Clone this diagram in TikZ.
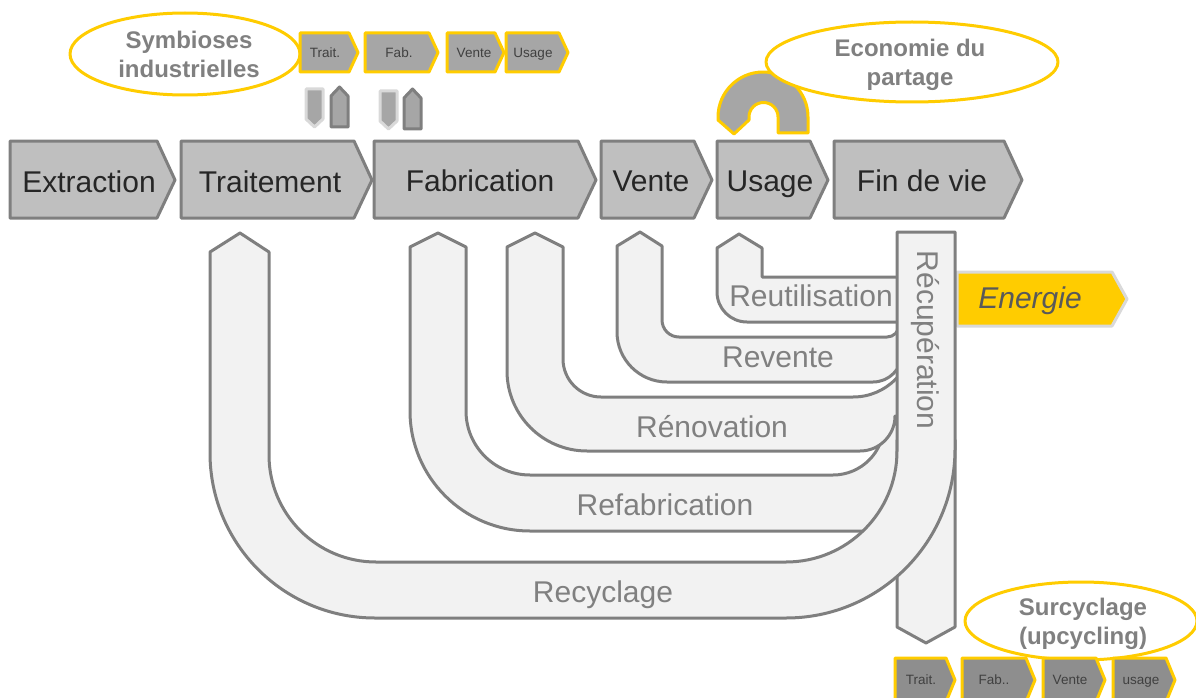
\documentclass[tikz,border=0pt]{standalone}
\usepackage{fontspec}
\setmainfont{Liberation Sans}
\usepackage{xcolor}
\usetikzlibrary{calc}

\definecolor{linegray}{HTML}{7F7F7F}
\definecolor{boxfill}{HTML}{BFBFBF}
\definecolor{bandfill}{HTML}{F2F2F2}
\definecolor{smallfill}{HTML}{A6A6A6}
\definecolor{smalldark}{HTML}{8E8E8E}
\definecolor{pale}{HTML}{D9D9D9}
\definecolor{gold}{HTML}{FFCC00}
\definecolor{txtdark}{HTML}{262626}
\definecolor{txtmid}{HTML}{404040}
\definecolor{txtgray}{HTML}{808080}
\definecolor{txtenergy}{HTML}{595959}

\begin{document}
\begin{tikzpicture}[x=1pt,y=-1pt,line join=round,
	mainbox/.style={fill=boxfill,draw=linegray,line width=3pt},
	maintext/.style={text=txtdark,font=\fontsize{30}{36}\selectfont,inner sep=0pt,anchor=base},
	smallbox/.style={fill=smallfill,draw=gold,line width=3pt},
	smallboxdark/.style={fill=smalldark,draw=gold,line width=3pt},
	smalltext/.style={text=txtmid,font=\fontsize{13.5}{16}\selectfont,inner sep=0pt,anchor=base},
	bubble/.style={fill=white,draw=gold,line width=3pt},
	bubbletext/.style={text=txtgray,font=\bfseries\fontsize{24}{29}\selectfont,align=center,inner sep=0pt},
	band/.style={fill=bandfill,draw=linegray,line width=3pt},
	bandtext/.style={text=txtgray,font=\fontsize{30}{36}\selectfont,inner sep=0pt,anchor=base},
	arrowlight/.style={fill=smallfill,draw=pale,line width=3pt},
	arrowdark/.style={fill=smallfill,draw=linegray,line width=3pt},
	energiebox/.style={fill=gold,draw=pale,line width=3pt}]
	\useasboundingbox (0,0) rectangle (1196,698);

	% symbioses industrielles
	\draw[bubble] (185,54) ellipse [x radius=115, y radius=41];
	\node[bubbletext] (symbioses) at (189,54) {Symbioses\\industrielles};
	\draw[smallbox] (300,33) -- (349,33) -- (358,52.5) -- (349,72) -- (300,72) -- cycle;
	\draw[smallbox] (365,33) -- (429,33) -- (438,52.5) -- (429,72) -- (365,72) -- cycle;
	\draw[smallbox] (447,33) -- (495,33) -- (504,52.5) -- (495,72) -- (447,72) -- cycle;
	\draw[smallbox] (506,33) -- (559,33) -- (568,52.5) -- (559,72) -- (506,72) -- cycle;
	\node[smalltext] (sTrait) at (325,57.5) {Trait.};
	\node[smalltext] (sFab) at (399,57.5) {Fab.};
	\node[smalltext] (sVente) at (474,57.5) {Vente};
	\node[smalltext] (sUsage) at (533,57.5) {Usage};

	% small in/out arrows
	\draw[arrowlight] (306,89) -- (323,89) -- (323,119) -- (314.5,127) -- (306,119) -- cycle;
	\draw[arrowdark] (331,127) -- (331,96) -- (339.5,87) -- (348,96) -- (348,127) -- cycle;
	\draw[arrowlight] (380,91) -- (397,91) -- (397,121) -- (388.5,129) -- (380,121) -- cycle;
	\draw[arrowdark] (404,129) -- (404,98) -- (412.5,89) -- (421,98) -- (421,129) -- cycle;

	% economie du partage
	\draw[smallbox] (808,133) -- (808,117) arc[start angle=0, end angle=-180, radius=45]
		-- (718,120) -- (734,134) -- (749,120) -- (749,117)
		arc[start angle=180, end angle=360, radius=14.5] -- (778,133) -- cycle;
	\draw[bubble] (912,62) ellipse [x radius=146, y radius=40];
	\node[bubbletext] (economie) at (910,65) {Economie du\\partage};

	% main chain
	\draw[mainbox] (10,141) -- (157,141) -- (175,180) -- (157,218) -- (10,218) -- cycle;
	\draw[mainbox] (181,141) -- (354,141) -- (372,180) -- (354,218) -- (181,218) -- cycle;
	\draw[mainbox] (374,141) -- (578,141) -- (596,180) -- (578,218) -- (374,218) -- cycle;
	\draw[mainbox] (601,141) -- (694,141) -- (712,180) -- (694,218) -- (601,218) -- cycle;
	\draw[mainbox] (717,141) -- (810,141) -- (828,180) -- (810,218) -- (717,218) -- cycle;
	\draw[mainbox] (834,141) -- (1004,141) -- (1022,180) -- (1004,218) -- (834,218) -- cycle;
	\node[maintext] (extraction) at (89,192) {Extraction};
	\node[maintext] (traitement) at (270,192) {Traitement};
	\node[maintext] (fabrication) at (480,191) {Fabrication};
	\node[maintext] (vente) at (651,191) {Vente};
	\node[maintext] (usage) at (770,191) {Usage};
	\node[maintext] (findevie) at (922,191) {Fin de vie};

	% loops back into the chain
	\begin{scope}
		\clip (0,0) rectangle (897,698);
		\draw[band] (438,233) -- (466,247) -- (466,411) arc[start angle=180, end angle=90, radius=64]
			-- (833,475) arc[start angle=90, end angle=0, radius=51] -- (990,424) -- (990,531)
			-- (530,531) arc[start angle=90, end angle=180, radius=120] -- (410,247) -- cycle;
		\draw[band] (535,233) -- (563,247) -- (563,359) arc[start angle=180, end angle=90, radius=38]
			-- (853,397) arc[start angle=90, end angle=0, radius=60] -- (990,337) -- (990,416)
			-- (895,416) arc[start angle=0, end angle=90, radius=35]
			-- (587,451) arc[start angle=90, end angle=180, radius=80] -- (507,247) -- cycle;
		\draw[band] (640,232) -- (662,246) -- (662,320) arc[start angle=180, end angle=90, radius=17]
			-- (887,337) arc[start angle=90, end angle=0, radius=12] -- (990,325) -- (990,353)
			-- (902,353) arc[start angle=0, end angle=90, radius=29]
			-- (667,382) arc[start angle=90, end angle=180, radius=50] -- (617,246) -- cycle;
		\draw[band] (739,234) -- (762,248) -- (762,277) -- (990,277) -- (990,322)
			-- (747,322) arc[start angle=90, end angle=180, radius=30] -- (717,248) -- cycle;
	\end{scope}

	% energie
	\draw[energiebox] (957,272) -- (1112,272) -- (1127,299) -- (1112,326) -- (957,326) -- cycle;
	\node[bandtext,text=txtenergy,font=\itshape\fontsize{30}{36}\selectfont] (energie) at (1030,308) {Energie};

	% recuperation and recyclage
	\draw[band] (897,440) -- (955,440) -- (955,627) -- (926,643) -- (897,627) -- cycle;
	\draw[band] (240,233) -- (269,252) -- (269,455) arc[start angle=180, end angle=90, radius=107]
		-- (786,562) arc[start angle=90, end angle=0, radius=111] -- (897,232) -- (955,232)
		-- (955,449) arc[start angle=0, end angle=90, radius=169]
		-- (375,618) arc[start angle=90, end angle=180, radius=165] -- (210,252) -- cycle;

	\node[bandtext,rotate=-90,anchor=center] (recuperation) at (925,340) {Récupération};
	\node[bandtext] (reutilisation) at (811,306) {Reutilisation};
	\node[bandtext] (revente) at (778,367) {Revente};
	\node[bandtext] (renovation) at (712,437) {Rénovation};
	\node[bandtext] (refabrication) at (665,515) {Refabrication};
	\node[bandtext] (recyclage) at (603,602) {Recyclage};

	% surcyclage
	\draw[bubble] (1081,621) ellipse [x radius=116, y radius=39];
	\node[bubbletext] (surcyclage) at (1083,623.5) {Surcyclage\\(upcycling)};
	\draw[smallboxdark] (895,658) -- (946,658) -- (955,680) -- (946,702) -- (895,702) -- cycle;
	\draw[smallboxdark] (962,658) -- (1026,658) -- (1035,680) -- (1026,702) -- (962,702) -- cycle;
	\draw[smallboxdark] (1043,658) -- (1096,658) -- (1105,680) -- (1096,702) -- (1043,702) -- cycle;
	\draw[smallboxdark] (1113,658) -- (1166,658) -- (1175,680) -- (1166,702) -- (1113,702) -- cycle;
	\node[smalltext] (uTrait) at (921,684) {Trait.};
	\node[smalltext] (uFab) at (994,684) {Fab..};
	\node[smalltext] (uVente) at (1070,684) {Vente};
	\node[smalltext] (uUsage) at (1141,684) {usage};
\end{tikzpicture}
\end{document}
